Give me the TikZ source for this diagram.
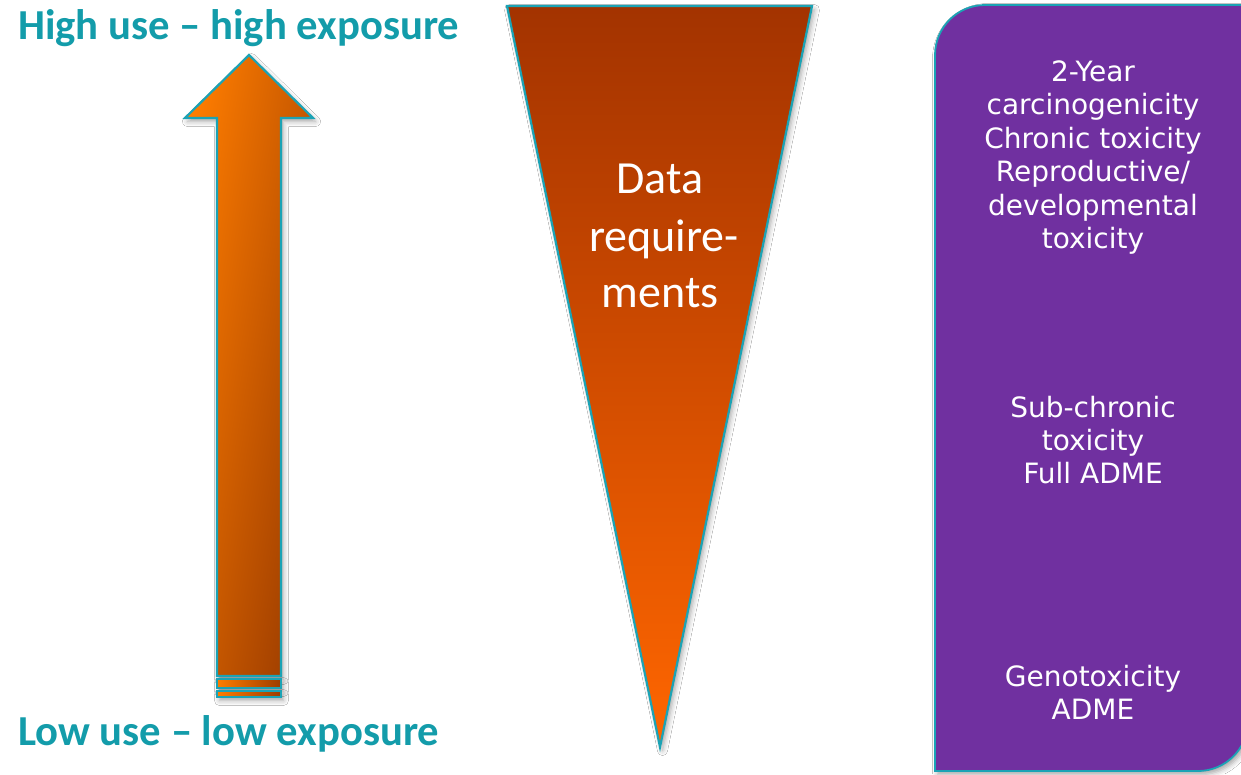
\documentclass[tikz,border=0pt]{standalone}
\usepackage{fontspec}
\setmainfont{DejaVu Sans}
\newfontfamily\calfont{Carlito}
\usetikzlibrary{shadows.blur}
\definecolor{teal1}{HTML}{139CAA}
\definecolor{border1}{HTML}{1BA3B5}
\definecolor{purp}{HTML}{7030A0}
\definecolor{triTop}{HTML}{A33300}
\definecolor{triBot}{HTML}{FF6600}
\definecolor{arrL}{HTML}{FF7D00}
\definecolor{arrR}{HTML}{9C3C00}
\tikzset{
  header/.style={text=teal1, font=\calfont\bfseries\fontsize{42.7}{48}\selectfont, anchor=base west, inner sep=0pt},
  boxtxt/.style={text=white, font=\fontsize{28}{34}\selectfont, anchor=base, inner sep=0pt},
  tritxt/.style={text=white, font=\calfont\fontsize{46}{56}\selectfont, anchor=base, inner sep=0pt},
  softshadow/.style={blur shadow={shadow xshift=2.5pt, shadow yshift=-3.5pt, shadow blur radius=5pt, shadow opacity=35}},
  outline/.style={draw=border1, line width=2.2pt, line join=miter},
}
\begin{document}
\begin{tikzpicture}[x=1pt,y=-1pt]
\useasboundingbox (0,0) rectangle (1241,774);
\fill[white] (0,0) rectangle (1241,774);
\clip (0,0) rectangle (1241,774);

% arrow
\path[outline, softshadow, left color=arrL, right color=arrR, shading angle=80]
  (249,55) -- (313,118) -- (281,118) -- (281,676) -- (217,676) -- (217,118) -- (185,118) -- cycle;
\path[outline, softshadow, left color=arrL, right color=arrR] (217,679) rectangle (281,688);
\path[outline, softshadow, left color=arrL, right color=arrR] (217,691) rectangle (281,697);

% triangle
\path[outline, softshadow, top color=triTop, bottom color=triBot]
  (507,6) -- (812,6) -- (660,747) -- cycle;

% purple box
\path[draw=border1, line width=1.8pt, fill=purp, softshadow]
  (935,771) -- (935,55) .. controls (935,27.4) and (957.4,5) .. (985,5) -- (1248,5)
  -- (1248,721) .. controls (1248,748.6) and (1225.6,771) .. (1198,771) -- cycle;

% headers
\node[header] (hi) at (18,39) {High use – high exposure};
\node[header] (lo) at (18,745) {Low use – low exposure};

% triangle text
\node[tritxt] (d1) at (660,193) {Data};
\node[tritxt] (d2) at (664,251) {require-};
\node[tritxt] (d3) at (660,307) {ments};

% box text
\node[boxtxt] (a1) at (1093,81) {2-Year};
\node[boxtxt] (a2) at (1093,114.5) {carcinogenicity};
\node[boxtxt] (a3) at (1093,148) {Chronic toxicity};
\node[boxtxt] (a4) at (1093,181.5) {Reproductive/};
\node[boxtxt] (a5) at (1093,215) {developmental};
\node[boxtxt] (a6) at (1093,248.5) {toxicity};

\node[boxtxt] (b1) at (1093,417) {Sub-chronic};
\node[boxtxt] (b2) at (1093,450) {toxicity};
\node[boxtxt] (b3) at (1093,483) {Full ADME};

\node[boxtxt] (c1) at (1093,686) {Genotoxicity};
\node[boxtxt] (c2) at (1093,719) {ADME};
\end{tikzpicture}
\end{document}
